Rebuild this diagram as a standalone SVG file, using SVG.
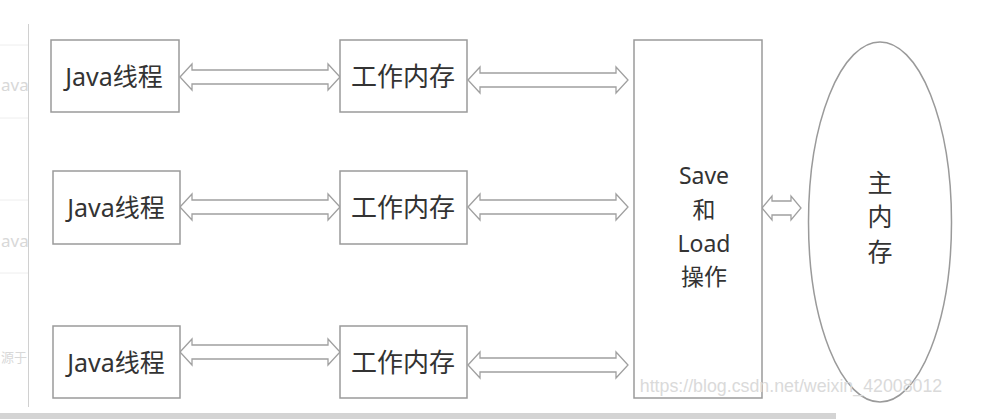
<svg xmlns="http://www.w3.org/2000/svg" width="988" height="419" viewBox="0 0 988 419">
<style>
.box{fill:#fff;stroke:#9a9a9a;stroke-width:1.5}
.arr{fill:#fff;stroke:#a0a0a0;stroke-width:1.3;stroke-linejoin:miter}
.t{font-family:"Noto Sans","Noto Sans CJK SC",sans-serif;fill:#333;text-anchor:middle;dominant-baseline:central}
.j{font-size:25px}
.w{font-size:26px}
.s{font-size:23px}
.m{font-size:25px}
.faint{font-family:"Noto Sans","Noto Sans CJK SC",sans-serif;fill:#d8d8d8}
</style>
<rect width="988" height="419" fill="#fff"/>
<g id="background">
  <line x1="28.5" y1="24" x2="28.5" y2="407" stroke="#d0d0d0" stroke-width="1"/>
  <line x1="0" y1="45" x2="28" y2="45" stroke="#eee"/>
  <line x1="0" y1="118" x2="28" y2="118" stroke="#eee"/>
  <line x1="0" y1="200" x2="28" y2="200" stroke="#eee"/>
  <line x1="0" y1="273" x2="28" y2="273" stroke="#eee"/>
  <text class="faint" x="1" y="91" font-size="17">ava</text>
  <text class="faint" x="1" y="247" font-size="17">ava</text>
  <text class="faint" x="1" y="362" font-size="13">源于</text>
  <rect x="0" y="413" width="836" height="6" fill="#d4d4d4"/>
</g>
<g id="connectors">
  <path class="arr" d="M180,77 L192,64 L192,70 L328,70 L328,64 L340,77 L328,90 L328,84 L192,84 L192,90 Z"/>
  <path class="arr" d="M468,80 L480,67 L480,73 L616,73 L616,67 L628,80 L616,93 L616,87 L480,87 L480,93 Z"/>
  <path class="arr" d="M180,207 L192,194 L192,200 L328,200 L328,194 L340,207 L328,220 L328,214 L192,214 L192,220 Z"/>
  <path class="arr" d="M468,207 L480,194 L480,200 L616,200 L616,194 L628,207 L616,220 L616,214 L480,214 L480,220 Z"/>
  <path class="arr" d="M180,352 L192,339 L192,345 L328,345 L328,339 L340,352 L328,365 L328,359 L192,359 L192,365 Z"/>
  <path class="arr" d="M468,365 L480,352 L480,358 L616,358 L616,352 L628,365 L616,378 L616,372 L480,372 L480,378 Z"/>
  <path class="arr" d="M762,208 L772,196 L772,201 L791,201 L791,196 L801,208 L791,220 L791,215 L772,215 L772,220 Z"/>
</g>
<g id="thread1"><rect class="box" x="51" y="40" width="128" height="72"/><text class="t j" x="114" y="76">Java线程</text></g>
<g id="work1"><rect class="box" x="340" y="40" width="127" height="72"/><text class="t w" x="403" y="76">工作内存</text></g>
<g id="thread2"><rect class="box" x="53" y="171" width="127" height="73"/><text class="t j" x="116" y="207">Java线程</text></g>
<g id="work2"><rect class="box" x="340" y="171" width="127" height="73"/><text class="t w" x="403" y="207">工作内存</text></g>
<g id="thread3"><rect class="box" x="53" y="326" width="127" height="72"/><text class="t j" x="116" y="362">Java线程</text></g>
<g id="work3"><rect class="box" x="340" y="326" width="127" height="72"/><text class="t w" x="403" y="362">工作内存</text></g>
<g id="saveload"><rect class="box" x="634" y="40" width="128" height="358"/>
  <text class="t s" x="704" y="175">Save</text>
  <text class="t s" x="704" y="209">和</text>
  <text class="t s" x="704" y="243">Load</text>
  <text class="t s" x="704" y="276">操作</text>
</g>
<g id="mainmem"><ellipse cx="880" cy="222" rx="71.5" ry="180" fill="#fff" stroke="#9a9a9a" stroke-width="1.5"/>
  <text class="t m" x="880" y="182">主</text>
  <text class="t m" x="880" y="216">内</text>
  <text class="t m" x="880" y="251">存</text>
</g>
<text id="watermark" x="791" y="392" font-family="Liberation Sans, Arial, sans-serif" font-size="17.8" fill="#dadada" text-anchor="middle">https://blog.csdn.net/weixin_42008012</text>
</svg>
